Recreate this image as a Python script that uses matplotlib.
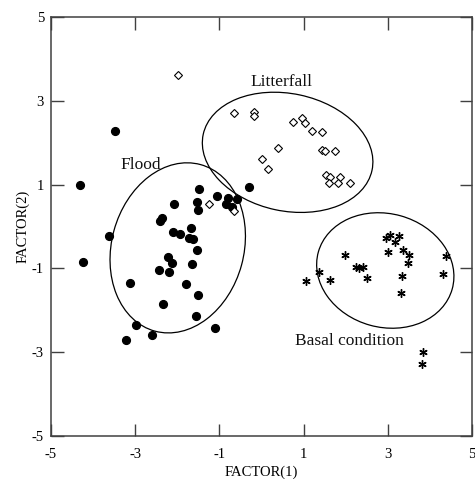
import matplotlib
matplotlib.use("Agg")
import matplotlib.pyplot as plt
from matplotlib.patches import Ellipse

plt.rcParams['font.family'] = ['Liberation Serif', 'DejaVu Serif']

# Flood group (filled circles)
flood_x = [-4.31, -4.24, -3.48, -3.63, -3.12, -2.98, -3.23, -2.61, -2.43, -2.23,
           -2.13, -2.20, -2.34, -1.66, -1.80, -1.51, -1.56, -1.10, -1.53, -2.11,
           -1.94, -1.72, -1.62, -1.68, -2.08, -2.36, -2.41, -1.48, -1.54, -1.51,
           -1.06, -0.80, -0.84, -0.71, -0.59, -0.29]
flood_y = [0.99, -0.85, 2.28, -0.23, -1.35, -2.35, -2.71, -2.59, -1.04, -0.73,
           -0.87, -1.08, -1.85, -0.89, -1.37, -1.63, -2.13, -2.42, -0.56, -0.12,
           -0.17, -0.27, -0.31, -0.04, 0.54, 0.20, 0.13, 0.89, 0.58, 0.39,
           0.73, 0.69, 0.54, 0.47, 0.66, 0.95]

# Litterfall group (open diamonds)
litter_x = [-1.98, -0.66, -0.17, -0.17, 0.74, 0.95, 1.03, 1.19, 1.44, 0.38,
            0.00, 0.16, 1.43, 1.51, 1.75, 1.53, 1.63, 1.61, 1.86, 1.82,
            2.10, -1.25, -0.65]
litter_y = [3.62, 2.70, 2.73, 2.63, 2.49, 2.58, 2.46, 2.29, 2.26, 1.87,
            1.60, 1.37, 1.83, 1.81, 1.81, 1.23, 1.17, 1.05, 1.19, 1.05,
            1.03, 0.53, 0.38]

# Basal condition group (asterisks)
basal_x = [1.06, 1.37, 1.63, 1.98, 2.24, 2.32, 2.40, 2.50, 2.95, 3.05,
           3.17, 3.26, 3.01, 3.37, 3.51, 3.49, 3.33, 3.31, 4.38, 4.30,
           3.83, 3.81]
basal_y = [-1.30, -1.08, -1.28, -0.68, -0.96, -0.98, -0.96, -1.24, -0.27, -0.21,
           -0.37, -0.22, -0.60, -0.55, -0.69, -0.86, -1.18, -1.58, -0.71, -1.13,
           -2.99, -3.28]

# Confidence ellipses: (center x, center y, width, height, angle)
ellipse_flood = (-1.99, -0.51, 4.12, 3.14, 74.8)
ellipse_litter = (0.62, 1.77, 4.10, 2.80, -12.1)
ellipse_basal = (2.94, -1.05, 3.30, 2.71, -15.6)

group_labels = ["Flood", "Litterfall", "Basal condition"]
label_pos_x = [-3.36, -0.27, 0.80]
label_pos_y = [1.47, 3.45, -2.73]

ticks = [-5, -3, -1, 1, 3, 5]
tick_labels = ["-5", "-3", "-1", "1", "3", "5"]

fig = plt.figure(figsize=(4.75, 4.79), dpi=100)
ax = fig.add_axes([0.1074, 0.0898, 0.8863, 0.8747])

ax.plot(flood_x, flood_y, linestyle='none', marker='o', ms=5.6,
        mfc='black', mec='black', zorder=3)
ax.plot(litter_x, litter_y, linestyle='none', marker='D', ms=4.2,
        mfc='white', mec='black', mew=0.8, zorder=3)
ax.plot(basal_x, basal_y, linestyle='none', marker=(6, 2, 0), ms=6.0,
        mec='black', mew=1.0, zorder=3)

for (cx, cy, w, h, ang) in [ellipse_flood, ellipse_litter, ellipse_basal]:
    ax.add_patch(Ellipse((cx, cy), w, h, angle=ang, fill=False,
                         edgecolor='black', lw=0.9, zorder=2))

for lab, lx, ly in zip(group_labels, label_pos_x, label_pos_y):
    ax.text(lx, ly, lab, fontsize=12.5, ha='left', va='center', color='#111111')

ax.set_xlim(-5, 5)
ax.set_ylim(-5, 5)
ax.set_xticks(ticks)
ax.set_xticklabels(tick_labels)
ax.set_yticks(ticks)
ax.set_yticklabels(tick_labels)
ax.tick_params(direction='in', length=9, width=1.0, color='#404040',
               top=True, right=True, labelsize=10.5)
ax.tick_params(axis='x', pad=9)
ax.tick_params(axis='y', pad=5)
for s in ax.spines.values():
    s.set_linewidth(1.1)
    s.set_color('#404040')

ax.set_xlabel("FACTOR(1)", fontsize=10.5, labelpad=3)
ax.set_ylabel("FACTOR(2)", fontsize=10.5, labelpad=2)

fig.savefig("out.png", dpi=100)
